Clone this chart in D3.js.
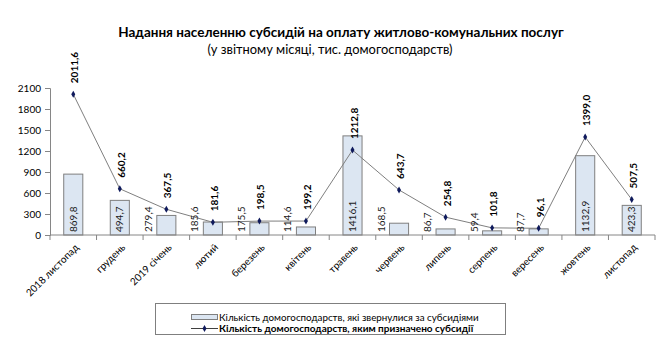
<!DOCTYPE html>
<html><head><meta charset="utf-8">
<script src="https://cdn.jsdelivr.net/npm/d3@7/dist/d3.min.js"></script>
<style>body{margin:0;background:#fff}svg{display:block}text{font-family:Lato,"Open Sans",sans-serif}</style>
</head><body><svg id="c" width="661" height="352"></svg>
<script>
const categories = ["2018 листопад","грудень","2019 січень","лютий","березень","квітень","травень","червень","липень","серпень","вересень","жовтень","листопад"];
const applied = [869.8,494.7,279.4,185.6,175.5,114.6,1416.1,168.5,86.7,59.4,87.7,1132.9,423.3];
const granted = [2011.6,660.2,367.5,181.6,198.5,199.2,1212.8,643.7,254.8,101.8,96.1,1399.0,507.5];
const yTicks = [0,300,600,900,1200,1500,1800,2100];
const fmt = v => v.toFixed(1).replace(".", ",");

const svg = d3.select("#c");
const x = d3.scaleBand().domain(categories).range([50,655]).padding(0);
const y = d3.scaleLinear().domain([0,2100]).range([235,88]);
const bw = x.bandwidth()*0.41;
const cx = c => x(c)+x.bandwidth()/2;

// title
svg.append("text").attr("x",341).attr("y",37).attr("text-anchor","middle")
  .attr("font-size",13.5).attr("font-weight","bold").attr("fill","#000")
  .text("Надання населенню субсидій на оплату житлово-комунальних послуг");
svg.append("text").attr("x",330).attr("y",54).attr("text-anchor","middle")
  .attr("font-size",12.9).attr("fill","#000")
  .text("(у звітному місяці, тис. домогосподарств)");

// bars
svg.append("g").selectAll("rect").data(applied).join("rect")
  .attr("x",(d,i)=>cx(categories[i])-bw/2).attr("y",d=>y(d))
  .attr("width",bw).attr("height",d=>y(0)-y(d))
  .attr("fill","#dce6f2").attr("stroke","#7f7f7f").attr("stroke-width",1);

// y axis
const ya = svg.append("g").attr("transform","translate(50,0)")
  .call(d3.axisLeft(y).tickValues(yTicks).tickSize(5).tickFormat(d3.format("d")));
ya.select(".domain").attr("stroke","#868686");
ya.selectAll(".tick line").attr("stroke","#868686");
ya.selectAll(".tick text").attr("font-size",10).attr("fill","#000").attr("font-family","Lato,sans-serif").attr("x",-9);

// x axis
const xa = svg.append("g").attr("transform","translate(0,235)");
xa.append("line").attr("x1",50).attr("x2",655).attr("stroke","#868686");
xa.selectAll("line.t").data(d3.range(categories.length+1)).join("line")
  .attr("class","t").attr("x1",i=>50+i*x.step()).attr("x2",i=>50+i*x.step())
  .attr("y1",0).attr("y2",5).attr("stroke","#868686");
xa.selectAll("text").data(categories).join("text")
  .attr("transform",d=>`translate(${cx(d)+6},${13}) rotate(-45)`)
  .attr("text-anchor","end").attr("font-size",10).attr("fill","#000").text(d=>d);

// line
const line = d3.line().x((d,i)=>cx(categories[i])).y(d=>y(d));
svg.append("path").datum(granted).attr("d",line).attr("fill","none")
  .attr("stroke","#7f7f7f").attr("stroke-width",1);
const diamond = d3.symbol().type(d3.symbolDiamond).size(14);
svg.append("g").selectAll("path").data(granted).join("path")
  .attr("d",diamond).attr("transform",(d,i)=>`translate(${cx(categories[i])},${y(d)})`)
  .attr("fill","#0f1a5c");

// bar labels
svg.append("g").selectAll("text").data(applied).join("text")
  .attr("transform",(d,i)=>{
    const inside = (y(0)-y(d)) > 28;
    const xx = cx(categories[i]) + (inside?0:-18) + 3.5;
    return `translate(${xx},232) rotate(-90)`;
  })
  .attr("font-size",10).attr("fill","#1a1a1a").text(d=>fmt(d));

// line labels
svg.append("g").selectAll("text").data(granted).join("text")
  .attr("transform",(d,i)=>`translate(${cx(categories[i])+5},${y(d)-11}) rotate(-90)`)
  .attr("font-size",10).attr("font-weight","bold").attr("fill","#000").text(d=>fmt(d));

// legend
const lg = svg.append("g");
lg.append("rect").attr("x",155.5).attr("y",303.5).attr("width",350).attr("height",31)
  .attr("fill","#fff").attr("stroke","#7f7f7f");
lg.append("rect").attr("x",191.5).attr("y",314.5).attr("width",26).attr("height",5)
  .attr("fill","#dce6f2").attr("stroke","#7f7f7f");
lg.append("text").attr("x",219).attr("y",321).attr("font-size",9.8).attr("fill","#000")
  .text("Кількість домогосподарств, які звернулися за субсидіями");
lg.append("line").attr("x1",191).attr("x2",218).attr("y1",328.5).attr("y2",328.5).attr("stroke","#404040");
lg.append("path").attr("d",diamond).attr("transform","translate(204.5,328.5)").attr("fill","#0f1a5c");
lg.append("text").attr("x",219).attr("y",332).attr("font-size",10).attr("font-weight","bold").attr("fill","#000")
  .text("Кількість домогосподарств, яким  призначено субсидії");
</script></body></html>
